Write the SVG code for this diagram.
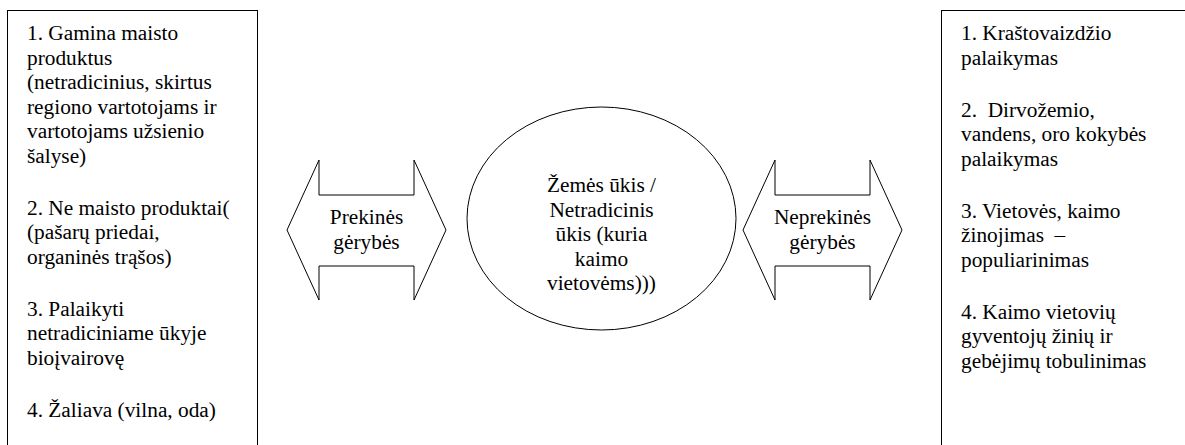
<svg xmlns="http://www.w3.org/2000/svg" width="1185" height="445" viewBox="0 0 1185 445">
<style>
.t{font-family:"Liberation Serif","Times New Roman",serif;font-size:21.33px;fill:#000;}
.box{fill:#fff;stroke:#000;stroke-width:1;}
.shape{fill:#fff;stroke:#000;stroke-width:1;}
.c{text-anchor:middle;}
</style>
<rect width="1185" height="445" fill="#fff"/>
<g id="left-box">
<rect class="box" x="7.5" y="10.5" width="250" height="450"/>
<g class="t">
<text x="27" y="40">1. Gamina maisto</text>
<text x="27" y="64.5">produktus</text>
<text x="27" y="89">(netradicinius, skirtus</text>
<text x="27" y="113.5">regiono vartotojams ir</text>
<text x="27" y="138">vartotojams užsienio</text>
<text x="27" y="162.5">šalyse)</text>
<text x="27" y="214.5">2. Ne maisto produktai(</text>
<text x="27" y="239">(pašarų priedai,</text>
<text x="27" y="263.5">organinės trąšos)</text>
<text x="27" y="315.5">3. Palaikyti</text>
<text x="27" y="340">netradiciniame ūkyje</text>
<text x="27" y="364.5">bioįvairovę</text>
<text x="27" y="416.5">4. Žaliava (vilna, oda)</text>
</g>
</g>
<g id="right-box">
<rect class="box" x="941.5" y="10.5" width="260" height="450"/>
<g class="t">
<text x="961" y="40">1. Kraštovaizdžio</text>
<text x="961" y="64.5">palaikymas</text>
<text x="961" y="116.5">2.&#160; Dirvožemio,</text>
<text x="961" y="141">vandens, oro kokybės</text>
<text x="961" y="165.5">palaikymas</text>
<text x="961" y="217.5">3. Vietovės, kaimo</text>
<text x="961" y="242">žinojimas&#160; –</text>
<text x="961" y="266.5">populiarinimas</text>
<text x="961" y="318.5">4. Kaimo vietovių</text>
<text x="961" y="343">gyventojų žinių ir</text>
<text x="961" y="367.5">gebėjimų tobulinimas</text>
</g>
</g>
<g id="center-ellipse">
<ellipse class="shape" cx="601.5" cy="218.5" rx="134.5" ry="111.5"/>
<g class="t c">
<text x="601.5" y="192">Žemės ūkis /</text>
<text x="601.5" y="216.5">Netradicinis</text>
<text x="601.5" y="241">ūkis (kuria</text>
<text x="601.5" y="265.5">kaimo</text>
<text x="601.5" y="290">vietovėms)))</text>
</g>
</g>
<g id="connectors">
<g id="arrow-prekines">
<polygon class="shape" points="287,230 319,160 319,195 414,195 414,160 446,230 414,300 414,266 319,266 319,300"/>
<g class="t c">
<text x="366.5" y="224">Prekinės</text>
<text x="366.5" y="248.5">gėrybės</text>
</g>
</g>
<g id="arrow-neprekines">
<polygon class="shape" points="743,230 775,160 775,195 870,195 870,160 902,230 870,300 870,266 775,266 775,300"/>
<g class="t c">
<text x="822.5" y="224">Neprekinės</text>
<text x="822.5" y="248.5">gėrybės</text>
</g>
</g>
</g>
</svg>
